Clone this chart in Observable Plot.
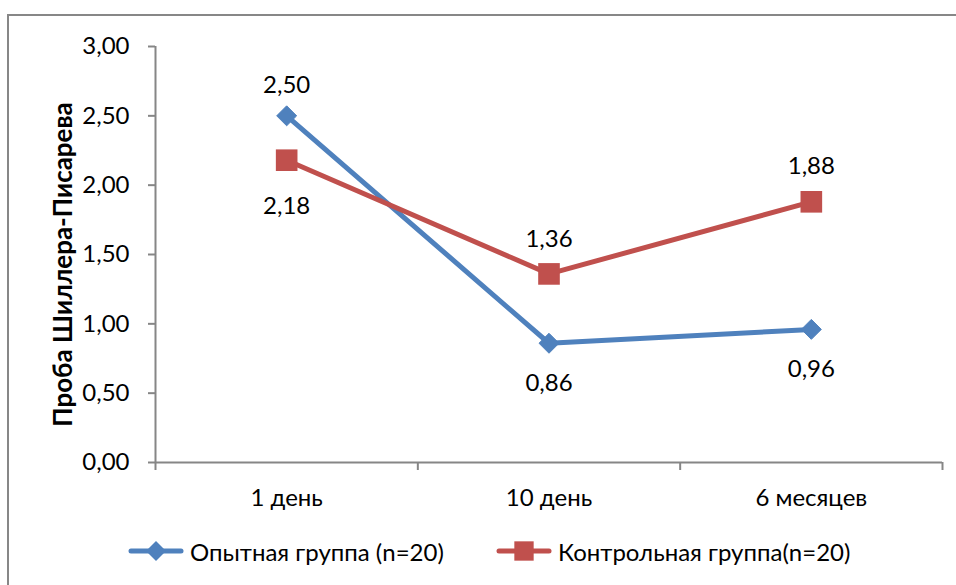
<!DOCTYPE html>
<html>
<head>
<meta charset="utf-8">
<script src="https://cdn.jsdelivr.net/npm/d3@7"></script>
<script src="https://cdn.jsdelivr.net/npm/@observablehq/plot@0.6"></script>
<style>
  html, body { margin: 0; padding: 0; background: #fff; }
  body { width: 956px; height: 585px; position: relative; overflow: hidden; font-family: Lato, "Open Sans", sans-serif; color: #000; }
  #frame { position: absolute; left: 7px; top: 14px; width: 960px; height: 580px; border-left: 2px solid #878787; border-top: 2px solid #878787; }
  #chart { position: absolute; left: 0; top: 0; }
  #legend { position: absolute; left: 0; top: 0; width: 956px; height: 585px; pointer-events: none; }
  .leg { position: absolute; top: 534px; display: flex; align-items: center; font-size: 24px; white-space: nowrap; }
  .leg svg { display: block; margin-right: 6px; }
</style>
</head>
<body>
<div id="frame"></div>
<div id="chart"></div>
<div id="legend"></div>
<script>
const categories = ["1 день", "10 день", "6 месяцев"];
const experimental = [2.50, 0.86, 0.96];
const control = [2.18, 1.36, 1.88];
const seriesNames = ["Опытная группа (n=20)", "Контрольная группа(n=20)"];
const yTicks = [0, 0.5, 1, 1.5, 2, 2.5, 3];
const yTitle = "Проба Шиллера-Писарева";

const BLUE = "#4F81BD";
const RED = "#C0504D";
const GRID = "#868686";
const FS = 24;

const fmt = v => v.toFixed(2).replace(".", ",");

function rows(values, other) {
  return values.map((v, i) => ({cat: categories[i], x: i + 0.5, y: v, above: v >= other[i]}));
}
const expRows = rows(experimental, control);
const ctrlRows = rows(control, experimental);

const plot = Plot.plot({
  width: 956,
  height: 520,
  marginLeft: 155,
  marginRight: 14,
  marginTop: 46,
  marginBottom: 58,
  style: {fontFamily: "Lato, 'Open Sans', sans-serif", fontSize: FS + "px", color: "#000", background: "transparent", overflow: "visible"},
  x: {domain: [0, categories.length], axis: null},
  y: {domain: [0, 3], axis: null},
  marks: [
    Plot.axisY({ticks: yTicks, tickSize: 7, tickPadding: 19, tickFormat: fmt, stroke: GRID, strokeWidth: 2, fill: "#000", label: null, fontSize: FS}),
    Plot.axisX({ticks: d3.range(categories.length + 1), tickSize: 8, tickFormat: () => "", stroke: GRID, strokeWidth: 2, label: null}),
    Plot.axisX({ticks: categories.map((c, i) => i + 0.5), tickSize: 0, tickPadding: 26, tickFormat: v => categories[Math.floor(v)], fill: "#000", label: null, fontSize: FS}),
    Plot.ruleY([0], {stroke: GRID, strokeWidth: 2}),
    Plot.ruleX([0], {stroke: GRID, strokeWidth: 2}),
    Plot.line(expRows, {x: "x", y: "y", stroke: BLUE, strokeWidth: 5, strokeLinejoin: "round", strokeLinecap: "round"}),
    Plot.dot(expRows, {x: "x", y: "y", symbol: "diamond2", r: 9, fill: BLUE, stroke: BLUE, strokeWidth: 1}),
    Plot.line(ctrlRows, {x: "x", y: "y", stroke: RED, strokeWidth: 5, strokeLinejoin: "round", strokeLinecap: "round"}),
    Plot.dot(ctrlRows, {x: "x", y: "y", symbol: "square", r: 12.2, fill: RED}),
    Plot.text(expRows.filter(d => d.above), {x: "x", y: "y", text: d => fmt(d.y), dy: -31, fill: "#000", fontSize: FS}),
    Plot.text(expRows.filter(d => !d.above), {x: "x", y: "y", text: d => fmt(d.y), dy: 40, fill: "#000", fontSize: FS}),
    Plot.text(ctrlRows.filter(d => d.above), {x: "x", y: "y", text: d => fmt(d.y), dy: -35, fill: "#000", fontSize: FS}),
    Plot.text(ctrlRows.filter(d => !d.above), {x: "x", y: "y", text: d => fmt(d.y), dy: 46, fill: "#000", fontSize: FS}),
    Plot.text([yTitle], {frameAnchor: "left", textAnchor: "middle", rotate: -90, dx: -92, dy: 10, fontWeight: "bold", fontSize: 26, fill: "#000"})
  ]
});
document.getElementById("chart").appendChild(plot);

// Legend
const legend = document.getElementById("legend");
function legendItem(name, color, symbolType, left) {
  const div = document.createElement("div");
  div.className = "leg";
  div.style.left = left + "px";
  const w = 56, h = 34;
  const svg = d3.create("svg").attr("width", w).attr("height", h);
  svg.append("line").attr("x1", 3).attr("x2", w - 3).attr("y1", h / 2).attr("y2", h / 2)
    .attr("stroke", color).attr("stroke-width", 5).attr("stroke-linecap", "round");
  const size = symbolType === d3.symbolDiamond2 ? Math.PI * 81 : Math.PI * 12.2 * 12.2 * 0.8;
  svg.append("path").attr("d", d3.symbol(symbolType, size)()).attr("transform", `translate(${w / 2},${h / 2})`).attr("fill", color);
  div.appendChild(svg.node());
  const span = document.createElement("span");
  span.textContent = name;
  div.appendChild(span);
  legend.appendChild(div);
}
legendItem(seriesNames[0], BLUE, d3.symbolDiamond2, 128);
legendItem(seriesNames[1], RED, d3.symbolSquare, 496);
</script>
</body>
</html>
